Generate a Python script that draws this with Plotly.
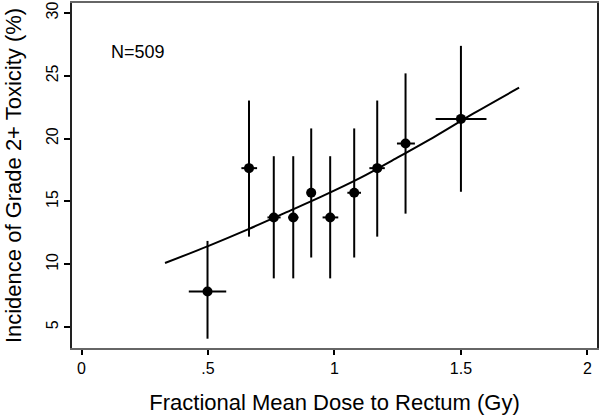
import plotly.graph_objects as go

# Binned observations
dose = [0.498, 0.662, 0.760, 0.837, 0.908, 0.983, 1.078, 1.169, 1.281, 1.500]
dose_low = [0.424, 0.632, 0.735, 0.817, 0.890, 0.953, 1.051, 1.138, 1.247, 1.400]
dose_high = [0.572, 0.694, 0.787, 0.858, 0.926, 1.015, 1.105, 1.199, 1.318, 1.601]
incidence = [7.84, 17.65, 13.73, 13.73, 15.69, 13.73, 15.69, 17.65, 19.61, 21.57]
ci_low = [4.08, 12.20, 8.88, 8.88, 10.54, 8.88, 10.54, 12.20, 14.03, 15.77]
ci_high = [11.86, 23.03, 18.60, 18.60, 20.81, 18.60, 20.81, 23.03, 25.19, 27.38]

# Fitted curve
fit_dose = [0.33, 0.50, 0.66, 0.80, 0.95, 1.10, 1.25, 1.40, 1.55, 1.73]
fit_incidence = [10.1, 11.45, 12.8, 14.05, 15.4, 16.85, 18.5, 20.2, 22.0, 24.05]

x_ticks = [0, 0.5, 1, 1.5, 2]
x_ticktext = ["0", ".5", "1", "1.5", "2"]
y_ticks = [5, 10, 15, 20, 25, 30]

FONT = "Arial, Liberation Sans, Helvetica, sans-serif"

fig = go.Figure()
fig.add_trace(go.Scatter(
    x=fit_dose, y=fit_incidence, mode="lines",
    line=dict(color="black", width=2, shape="spline"),
    showlegend=False, hoverinfo="skip"))

fig.add_trace(go.Scatter(
    x=dose, y=incidence, mode="markers",
    marker=dict(color="black", size=10),
    error_y=dict(type="data", symmetric=False,
                 array=[h - v for h, v in zip(ci_high, incidence)],
                 arrayminus=[v - l for v, l in zip(incidence, ci_low)],
                 color="black", thickness=2, width=0),
    error_x=dict(type="data", symmetric=False,
                 array=[h - v for h, v in zip(dose_high, dose)],
                 arrayminus=[v - l for v, l in zip(dose, dose_low)],
                 color="black", thickness=2, width=0),
    showlegend=False))

fig.add_annotation(x=0.109, y=26.93, text="N=509", showarrow=False,
                   xanchor="left", yanchor="middle",
                   font=dict(family=FONT, size=18, color="black"))

fig.update_layout(
    width=600, height=417,
    margin=dict(l=72, r=1, t=1, b=69, pad=0),
    paper_bgcolor="white", plot_bgcolor="white",
    font=dict(family=FONT, color="black"),
    xaxis=dict(range=[-0.0378, 2.038], tickvals=x_ticks, ticktext=x_ticktext,
               ticks="outside", ticklen=5, tickwidth=1.5, tickcolor="black",
               showline=True, linecolor="#666666", linewidth=2, mirror=True,
               showgrid=False, zeroline=False,
               tickfont=dict(family=FONT, size=16, color="black"),
               title=dict(text="Fractional Mean Dose to Rectum (Gy)",
                          font=dict(family=FONT, size=22, color="black"),
                          standoff=18)),
    yaxis=dict(range=[3.34, 30.79], tickvals=y_ticks,
               ticks="outside", ticklen=6, tickwidth=1.5, tickcolor="black",
               tickangle=-90,
               showline=True, linecolor="#222222", linewidth=2, mirror=True,
               showgrid=False, zeroline=False,
               tickfont=dict(family=FONT, size=16, color="black"),
               title=dict(text="Incidence of Grade 2+ Toxicity (%)",
                          font=dict(family=FONT, size=22, color="black"),
                          standoff=16)),
)

fig.write_html("out.html", config={"displayModeBar": False},
               post_script="document.body.style.margin='0px';document.body.style.overflow='hidden';")
